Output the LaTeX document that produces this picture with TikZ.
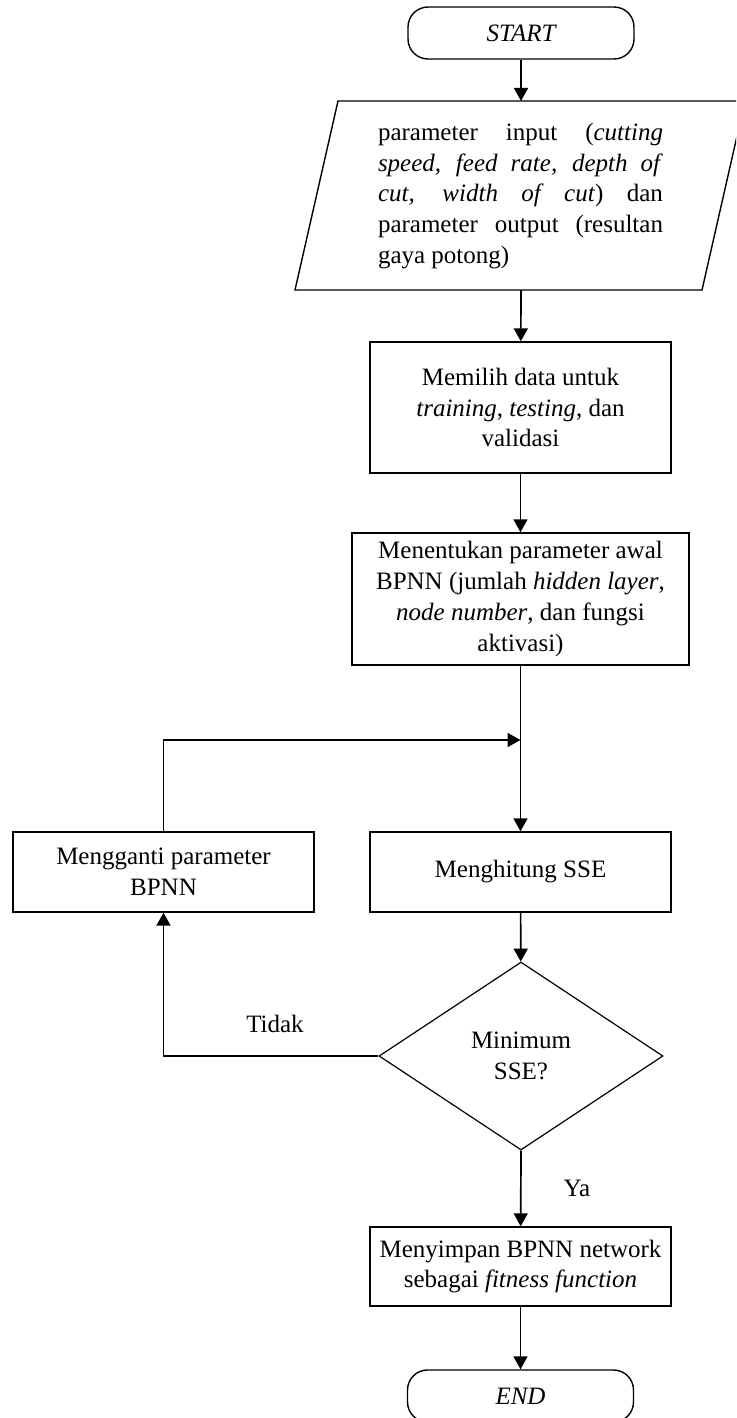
\documentclass[tikz,border=0pt]{standalone}
\usepackage{fontspec}
\setmainfont{Liberation Serif}
\usetikzlibrary{shapes.geometric,arrows.meta}

\begin{document}
\begin{tikzpicture}[x=0.5pt,y=-0.5pt,
  every node/.style={font=\fontsize{12.5pt}{15.4pt}\selectfont},
  procbox/.style={draw, line width=0.7pt, rectangle, align=center, inner sep=0pt},
  termbox/.style={draw, line width=0.7pt, rectangle, rounded corners=10pt, inner sep=0pt,
    font=\fontsize{12.5pt}{15.4pt}\selectfont\itshape},
  decbox/.style={draw, diamond, line width=0.6pt, align=center, inner sep=0pt},
  iobox/.style={line width=0.7pt},
  flow/.style={line width=0.85pt, -{Triangle[length=6.5pt,width=7pt]}},
  plain/.style={line width=0.85pt}
]
\useasboundingbox (0,0) rectangle (736,1418);
\clip (0,0) rectangle (736,1418);

% terminal: start
\node[termbox, minimum width=113pt, minimum height=26pt] (start) at (521,33) {START};

% input / output parallelogram
\draw[iobox] (295,290) -- (702,290) -- (745,101) -- (338,101) -- cycle;
\coordinate (ioN) at (521,101);
\coordinate (ioS) at (521,290);
\node[align=left, inner sep=0pt] (iotext) at (520.5,196) {%
\makebox[142.5pt][s]{parameter input (\textit{cutting}}\\
\makebox[142.5pt][s]{\textit{speed, feed rate, depth of}}\\
\makebox[142.5pt][s]{\textit{cut, width of cut}) dan}\\
\makebox[142.5pt][s]{parameter output (resultan}\\
gaya potong)};

% process steps
\node[procbox, minimum width=150.5pt, minimum height=65.5pt] (pilih) at (520.5,407.5)
  {Memilih data untuk\\ \textit{training}, \textit{testing}, dan\\ validasi};
\node[procbox, minimum width=168.5pt, minimum height=66pt] (tentukan) at (520.5,599)
  {Menentukan parameter awal\\ BPNN (jumlah \textit{hidden layer},\\ \textit{node number}, dan fungsi\\ aktivasi)};
\node[procbox, minimum width=150.5pt, minimum height=40pt] (ganti) at (163.5,872)
  {Mengganti parameter\\ BPNN};
\node[procbox, minimum width=150.5pt, minimum height=40pt] (hitung) at (520.5,872)
  {Menghitung SSE};
\node[decbox, minimum width=142pt, minimum height=94pt] (cek) at (521,1056)
  {Minimum\\ SSE?};
\node[procbox, minimum width=150.5pt, minimum height=39.5pt] (simpan) at (520.5,1266.5)
  {Menyimpan BPNN network\\ sebagai \textit{fitness function}};

% terminal: end
\node[termbox, minimum width=113pt, minimum height=26pt] (end) at (520.5,1396) {END};

% branch labels
\node (tidak) at (275,1024) {Tidak};
\node (ya) at (577,1188) {Ya};

% connectors
\coordinate (join) at (520.5,740);
\draw[flow] (start) -- (ioN);
\draw[flow] (ioS) -- (pilih);
\draw[flow] (pilih) -- (tentukan);
\draw[flow] (tentukan) -- (hitung);
\draw[flow] (ganti.north) |- (join);
\draw[flow] (hitung) -- (cek);
\draw[flow] (cek.west) -| (ganti.south);
\draw[flow] (cek.south) -- (simpan);
\draw[flow] (simpan) -- (end);
\end{tikzpicture}
\end{document}
